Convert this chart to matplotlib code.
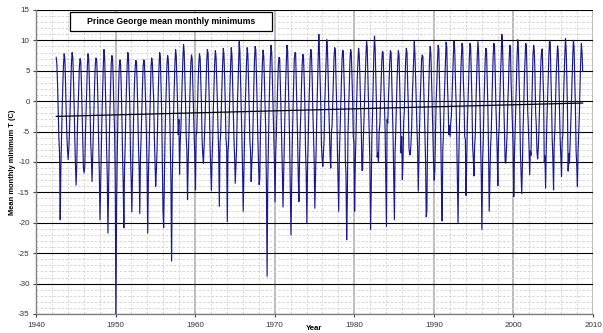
import numpy as np
import pandas as pd
import matplotlib
matplotlib.use("Agg")
import matplotlib.pyplot as plt
from matplotlib.patches import Rectangle
from matplotlib.ticker import MultipleLocator

plt.rcParams['font.family'] = ['Liberation Sans', 'DejaVu Sans']
plt.rcParams['axes.unicode_minus'] = False

# Prince George mean monthly minimum T (C).
# One row per year, Jan..Dec. Series starts Jul 1942, ends Sep 2008.
t_1940s = [
    7.2, 6.0, 2.8, -1.5, -6.0, -8.5,  # 1942 Jul-Dec
    -19.5, -11.0, -5.8, -1.2, 2.9, 6.1, 7.8, 7.0, 3.1, -1.6, -5.5, -8.0,
    -9.6, -7.8, -5.2, -1.0, 3.0, 6.4, 8.0, 7.2, 3.6, -0.8, -6.2, -10.5,
    -13.8, -10.5, -4.2, -0.9, 2.6, 5.8, 7.0, 6.5, 2.9, -1.9, -7.5, -11.0,
    -11.8, -11.0, -5.6, -1.8, 2.4, 6.0, 7.8, 6.9, 3.3, -1.2, -6.8, -9.4,
    -13.2, -9.0, -5.0, -0.6, 3.2, 6.2, 7.1, 6.8, 3.8, -0.5, -7.0, -12.0,
    -19.5, -13.5, -7.5, -2.4, 2.1, 5.9, 8.5, 7.4, 3.0, -1.8, -8.0, -12.5,
    -21.7, -14.0, -6.8, -1.5, 2.7, 6.3, 7.5, 6.9, 3.4, -1.4, -4.8, -13.0,
]
t_1950s = [
    -35.0, -17.5, -9.0, -2.6, 1.9, 5.6, 6.8, 6.2, 2.7, -2.2, -8.5, -13.5,
    -20.8, -11.2, -7.2, -1.9, 2.5, 6.0, 8.0, 7.1, 3.2, -1.0, -8.8, -12.8,
    -18.2, -12.0, -6.4, -1.3, 2.8, 5.4, 6.7, 6.5, 3.1, -1.5, -7.2, -10.8,
    -18.5, -9.5, -6.0, -1.7, 2.2, 5.5, 6.8, 6.6, 2.9, -0.9, -5.5, -11.5,
    -21.7, -12.5, -7.8, -2.5, 2.0, 5.7, 7.1, 6.3, 2.8, 0.3, -6.0, -10.0,
    -14.0, -11.5, -8.2, -2.8, 2.1, 5.6, 8.0, 7.2, 3.0, -1.7, -9.5, -18.0,
    -20.8, -13.0, -6.5, -1.4, 2.6, 6.0, 7.5, 6.8, 3.2, -1.1, -6.8, -13.5,
    -26.3, -12.8, -6.7, -1.6, 2.4, 6.2, 8.5, 7.5, 3.5, -0.6, -5.5, -3.0,
    -12.0, -6.8, -4.5, -0.4, 3.4, 7.0, 9.3, 8.1, 3.9, -0.2, -5.8, -8.1,
    -16.2, -10.2, -5.8, -1.5, 2.7, 6.3, 7.6, 7.0, 3.1, -1.3, -5.7, -9.0,
]
t_1960s = [
    -14.6, -5.7, -5.0, -0.9, 3.0, 6.1, 7.8, 7.2, 3.4, -0.4, -6.4, -8.8,
    -10.2, -7.5, -4.6, -0.7, 3.3, 6.7, 8.5, 7.9, 3.2, -1.0, -7.4, -11.0,
    -14.7, -9.8, -6.2, -1.1, 2.9, 6.4, 8.3, 7.3, 3.6, 0.1, -4.6, -8.5,
    -17.3, -7.0, -5.4, -1.2, 2.8, 6.3, 8.7, 7.6, 3.9, -0.7, -6.2, -7.5,
    -19.8, -8.5, -6.6, -2.0, 2.2, 5.9, 8.8, 7.5, 3.0, -0.8, -6.0, -9.0,
    -13.5, -10.8, -7.7, -1.5, 2.3, 6.6, 9.8, 8.2, 3.7, -0.3, -6.0, -11.5,
    -18.1, -11.5, -5.9, -1.0, 2.9, 6.5, 8.8, 7.7, 3.3, -1.2, -6.6, -8.0,
    -13.2, -10.0, -7.9, -2.3, 2.5, 6.8, 9.0, 8.4, 4.2, -0.4, -5.9, -9.6,
    -13.7, -12.8, -4.9, -0.8, 3.1, 6.6, 8.4, 7.3, 3.5, -0.9, -5.0, -13.9,
    -28.8, -13.5, -7.0, -1.0, 3.5, 7.2, 9.2, 8.0, 3.7, -1.0, -4.2, -9.8,
]
t_1970s = [
    -16.5, -8.8, -5.3, -1.4, 2.8, 6.0, 7.2, 7.0, 3.0, -1.4, -6.2, -11.6,
    -17.4, -12.1, -7.3, -1.7, 2.9, 6.4, 9.2, 8.3, 3.1, -1.1, -6.7, -14.0,
    -22.0, -14.2, -6.9, -1.8, 2.6, 6.9, 8.0, 8.0, 3.2, -1.8, -6.0, -12.4,
    -16.5, -9.3, -4.8, -1.6, 3.0, 6.2, 7.7, 7.1, 3.5, -0.8, -8.0, -11.8,
    -20.0, -11.0, -6.6, -0.9, 2.4, 7.0, 8.5, 7.4, 3.9, -1.6, -5.4, -9.6,
    -17.6, -12.9, -7.7, -2.0, 2.3, 6.5, 11.0, 7.8, 3.4, -0.7, -7.3, -9.5,
    -10.7, -8.4, -6.2, -0.4, 3.3, 6.8, 10.1, 8.6, 4.5, -0.5, -4.6, -8.9,
    -11.0, -5.3, -3.9, 0.1, 3.6, 7.3, 8.8, 8.3, 3.3, -0.8, -7.8, -12.6,
    -18.1, -9.1, -5.1, -0.6, 3.4, 6.9, 8.4, 8.1, 3.8, -0.2, -9.6, -12.0,
    -22.8, -16.0, -5.4, -1.3, 3.1, 6.8, 8.5, 7.9, 4.3, 0.2, -5.9, -6.8,
]
t_1980s = [
    -18.1, -10.3, -6.0, -0.5, 3.7, 6.6, 8.7, 7.6, 4.0, -0.6, -4.2, -11.4,
    -11.3, -6.6, -3.6, 0.4, 3.9, 7.2, 9.8, 8.9, 3.9, -0.4, -4.9, -10.0,
    -21.1, -14.8, -6.2, -2.1, 3.0, 7.8, 10.7, 8.6, 3.6, -0.9, -9.2, -8.5,
    -10.1, -5.0, -3.9, -0.2, 3.9, 6.7, 8.2, 8.0, 3.5, -0.3, -4.8, -12.5,
    -20.6, -3.0, -3.6, 0.3, 3.3, 6.5, 8.3, 8.0, 3.2, -1.6, -5.8, -13.0,
    -19.5, -8.3, -5.0, -0.8, 3.5, 6.4, 8.3, 7.5, 2.6, -2.3, -8.5, -5.8,
    -12.9, -9.7, -3.4, -1.5, 3.2, 6.9, 8.7, 8.0, 2.8, -0.9, -7.7, -8.8,
    -8.8, -6.9, -4.4, 0.6, 3.8, 7.5, 9.8, 7.7, 4.1, -0.1, -4.5, -7.6,
    -14.8, -9.0, -4.1, 0.4, 3.6, 6.9, 7.6, 7.3, 3.2, -0.5, -5.1, -9.8,
    -19.0, -18.0, -6.5, -1.0, 3.0, 7.0, 9.0, 7.8, 3.6, -0.6, -5.6, -10.0,
]
t_1990s = [
    -13.0, -11.5, -5.0, 0.2, 3.1, 6.8, 9.2, 8.6, 3.3, -1.6, -6.2, -14.0,
    -19.7, -8.1, -5.2, -0.4, 3.4, 6.6, 9.7, 8.9, 3.0, -0.5, -5.5, -4.0,
    -5.8, -3.5, -2.4, 0.9, 4.2, 7.8, 9.9, 8.4, 3.6, -0.1, -5.9, -12.8,
    -20.0, -10.5, -4.3, 0.2, 4.1, 7.3, 9.5, 8.8, 3.4, 0.3, -5.8, -6.3,
    -15.5, -10.2, -3.8, 0.1, 3.5, 7.2, 9.5, 8.8, 4.6, -0.2, -7.5, -9.4,
    -12.3, -7.2, -5.5, -0.1, 3.9, 7.5, 9.8, 8.0, 4.0, -0.4, -6.9, -12.1,
    -21.1, -9.9, -6.4, -0.8, 2.8, 7.0, 8.7, 8.1, 3.0, -1.3, -8.4, -18.1,
    -12.5, -7.5, -5.3, -0.4, 3.9, 7.6, 9.5, 9.0, 4.7, -0.5, -4.1, -8.5,
    -13.9, -6.4, -4.3, 0.0, 4.4, 7.1, 11.0, 9.4, 4.2, -0.2, -5.3, -10.0,
    -10.2, -7.9, -5.1, -0.3, 2.7, 6.6, 9.2, 8.9, 3.1, -0.5, -3.5, -7.3,
]
t_2000s = [
    -15.7, -9.2, -5.0, -0.7, 3.5, 7.3, 10.1, 8.7, 3.8, -0.8, -8.3, -11.7,
    -15.2, -10.9, -4.7, -0.9, 3.9, 6.9, 9.5, 9.2, 4.4, -1.5, -4.2, -7.5,
    -12.1, -8.2, -8.9, -1.8, 2.8, 7.6, 9.2, 8.3, 4.4, -1.9, -4.0, -8.3,
    -9.5, -7.8, -4.6, -0.6, 3.2, 6.6, 8.3, 8.6, 4.3, 0.8, -10.1, -9.0,
    -14.3, -7.8, -3.2, 0.1, 3.9, 7.8, 10.0, 9.6, 4.1, -0.3, -6.3, -9.5,
    -14.6, -6.9, -4.8, -0.3, 4.3, 6.8, 9.1, 8.4, 3.7, -0.4, -6.3, -9.1,
    -12.4, -6.5, -5.5, 0.2, 4.1, 7.6, 10.3, 8.6, 4.0, -1.4, -11.5, -8.6,
    -10.2, -6.9, -3.7, -0.2, 3.7, 7.5, 10.0, 8.8, 3.4, -1.0, -8.1, -10.6,
    -14.0, -8.1, -4.8, -2.0, 2.9, 6.9, 9.5, 7.9, 4.9,  # 2008 Jan-Sep
]

# linear trend line end points
trend_years = [1942.55, 2008.7]
trend_vals = [-2.5, -0.3]

temps = np.array(t_1940s + t_1950s + t_1960s + t_1970s + t_1980s + t_1990s + t_2000s)
dates = pd.date_range('1942-07-01', periods=len(temps), freq='MS')
years = dates.year + (dates.month - 1) / 12 + 1 / 24

fig = plt.figure(figsize=(6.03, 3.33), dpi=100)
ax = fig.add_axes([36 / 603, 19 / 333, 557 / 603, 304 / 333])
ax.set_xlim(1940, 2010)
ax.set_ylim(-35, 15)

ax.xaxis.set_major_locator(MultipleLocator(10))
ax.xaxis.set_minor_locator(MultipleLocator(2))
ax.yaxis.set_major_locator(MultipleLocator(5))
ax.yaxis.set_minor_locator(MultipleLocator(1))

# gridlines: dashed minor, black horizontal major, grey vertical major
ax.set_axisbelow(True)
ax.grid(which='minor', color='#d0d0d0', ls=(0, (3, 2)), lw=0.6)
ax.grid(which='major', axis='y', color='black', lw=0.8)
ax.grid(which='major', axis='x', color='#a8a8a8', lw=1.1)

ax.plot(years, temps, color='#1a1a90', lw=0.85)
ax.plot(trend_years, trend_vals, color='black', lw=0.9)

for side in ['top', 'right']:
    ax.spines[side].set_visible(False)
for side in ['left', 'bottom']:
    ax.spines[side].set_color('#808080')
    ax.spines[side].set_linewidth(1.0)

ax.tick_params(which='minor', length=0)
ax.tick_params(which='major', length=2.5, width=0.8, color='#404040',
               labelsize=5.8, labelcolor='#333333', pad=2)
ax.tick_params(axis='x', pad=3)

# title box
ax.add_patch(Rectangle((0.061, 0.931), 0.363, 0.0625, transform=ax.transAxes,
                       facecolor='white', edgecolor='black', lw=0.9, zorder=5))
ax.text(0.2425, 0.962, 'Prince George mean monthly minimums', transform=ax.transAxes,
        ha='center', va='center', fontsize=6.3, fontweight='bold', zorder=6)

fig.text(13 / 603, 1 - 162 / 333, 'Mean monthly minimum T (C)', rotation=90,
         ha='center', va='center', fontsize=5.4, fontweight='bold')
fig.text(314 / 603, 1 - 328 / 333, 'Year', ha='center', va='center',
         fontsize=5.6, fontweight='bold')

fig.savefig('out.png', dpi=100)
